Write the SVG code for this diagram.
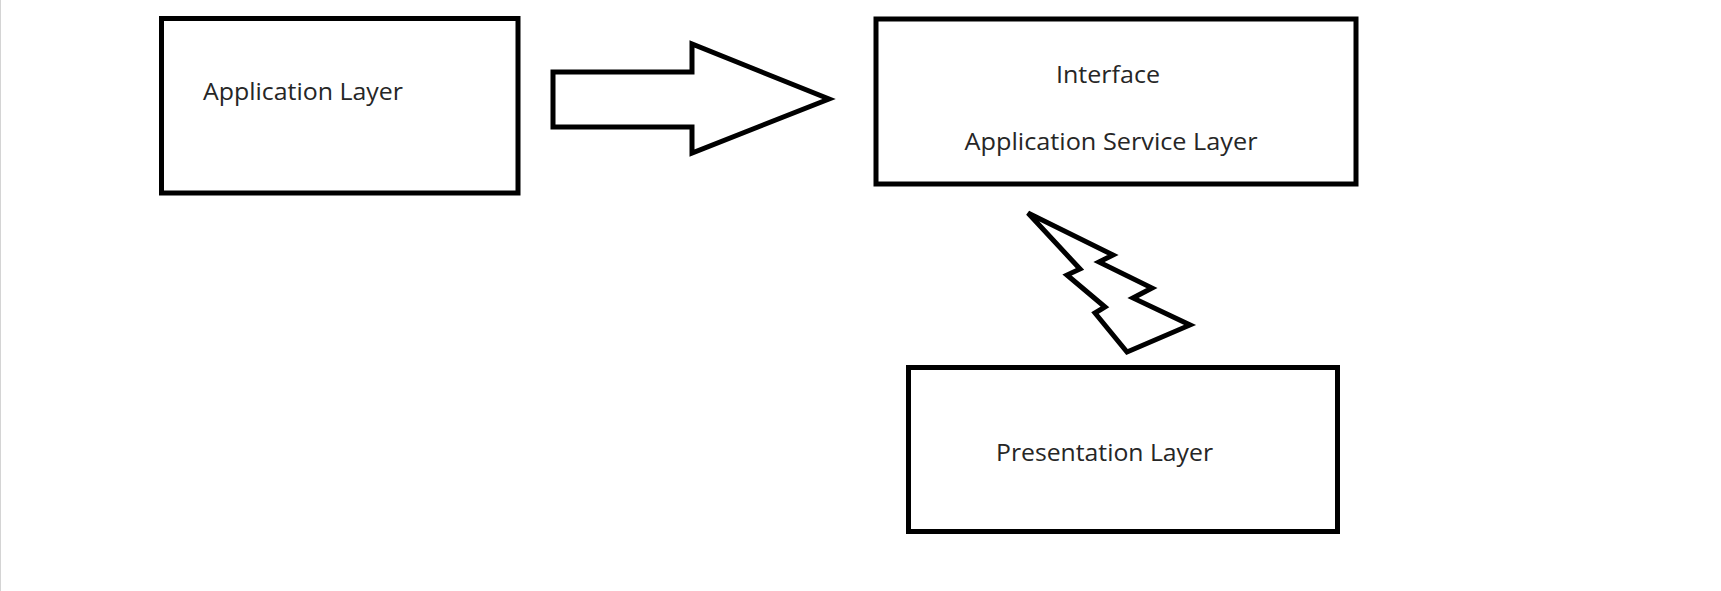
<svg xmlns="http://www.w3.org/2000/svg" width="1721" height="591" viewBox="0 0 1721 591">
  <style>
    .box { fill: #ffffff; stroke: #000000; stroke-width: 5; }
    .shape { fill: #ffffff; stroke: #000000; stroke-width: 5; stroke-linejoin: miter; stroke-miterlimit: 10; }
    .bolt { stroke-miterlimit: 3; }
    .label { font-family: "Open Sans", "Liberation Sans", sans-serif; font-size: 24px; fill: #262626; }
  </style>
  <rect x="0" y="0" width="1721" height="591" fill="#ffffff"/>
  <line x1="0.5" y1="0" x2="0.5" y2="591" stroke="#d4d4d4" stroke-width="1"/>
  <g id="application-layer">
    <rect class="box" x="161.5" y="18.5" width="356.5" height="174.5"/>
    <text class="label" x="203" y="100" textLength="200" lengthAdjust="spacingAndGlyphs">Application Layer</text>
  </g>
  <g id="interface-service-layer">
    <rect class="box" x="876" y="19" width="480" height="165"/>
    <text class="label" x="1056" y="83" textLength="104" lengthAdjust="spacingAndGlyphs">Interface</text>
    <text class="label" x="964.5" y="150" textLength="293" lengthAdjust="spacingAndGlyphs">Application Service Layer</text>
  </g>
  <g id="presentation-layer">
    <rect class="box" x="908.5" y="367.5" width="429" height="164"/>
    <text class="label" x="996" y="460.5" textLength="217" lengthAdjust="spacingAndGlyphs">Presentation Layer</text>
  </g>
  <g id="connectors">
    <polygon id="block-arrow" class="shape" points="553,72 692,72 692,44 829,99 692,153 692,127 553,127"/>
    <polygon id="lightning" class="shape bolt" points="1028,213 1113,255 1099,262 1152,288 1133,298 1190,325 1127,352 1095,313 1105,307 1067,275 1080,269"/>
  </g>
</svg>
